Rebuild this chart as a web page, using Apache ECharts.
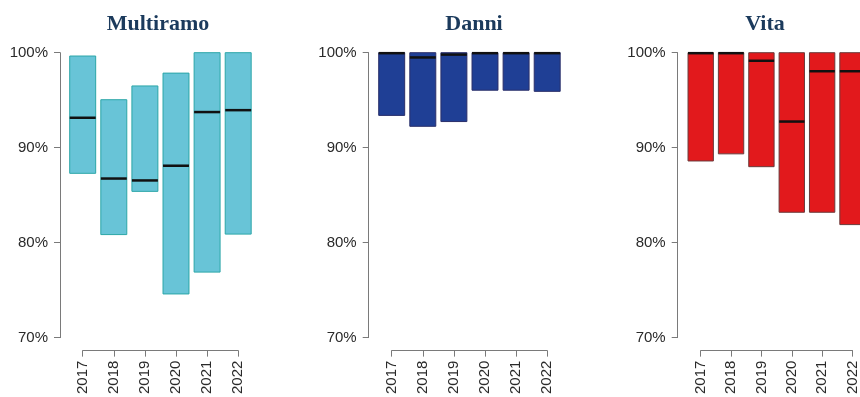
<!DOCTYPE html>
<html>
<head>
<meta charset="utf-8">
<script src="https://cdn.jsdelivr.net/npm/echarts@6/dist/echarts.min.js"></script>
<style>html,body{margin:0;padding:0;background:#fff}#c{width:860px;height:397px}</style>
</head>
<body>
<div id="c"></div>
<script>
const years = ['2017','2018','2019','2020','2021','2022'];
const yTicks = [70, 80, 90, 100];
const titles = ['Multiramo', 'Danni', 'Vita'];

const multiMin = [87.3, 80.85, 85.4, 74.6, 76.9, 80.9];
const multiMax = [99.65, 95.05, 96.5, 97.85, 100, 100];
const multiMed = [93.15, 86.75, 86.55, 88.1, 93.75, 93.95];

const danniMin = [93.4, 92.25, 92.75, 96.05, 96.05, 95.93];
const danniMax = [100, 100, 100, 100, 100, 100];
const danniMed = [99.95, 99.5, 99.8, 99.95, 99.95, 99.95];

const vitaMin = [88.6, 89.35, 88.0, 83.2, 83.2, 81.9];
const vitaMax = [100, 100, 100, 100, 100, 100];
const vitaMed = [99.95, 99.95, 99.15, 92.75, 98.05, 98.05];

const panels = [
  {min: multiMin, max: multiMax, med: multiMed, fill: '#68c4d7', stroke: '#2ba6a8', axisX: 60, first: 82.7, titleX: 153},
  {min: danniMin, max: danniMax, med: danniMed, fill: '#1f3f95', stroke: '#2a2f6a', axisX: 368.7, first: 391.7, titleX: 469},
  {min: vitaMin, max: vitaMax, med: vitaMed, fill: '#e2191c', stroke: '#6a3a3a', axisX: 677.7, first: 700.7, titleX: 760}
];
const spacing = 31.1;

const chart = echarts.init(document.getElementById('c'), null, {renderer: 'canvas'});
const grids = [], xAxes = [], yAxes = [], series = [], titleOpts = [];
const axisColor = '#7a7a7a';
const labelFont = {fontFamily: 'Liberation Sans, Arial, sans-serif', fontSize: 15, color: '#2a2a2a'};

panels.forEach((p, i) => {
  grids.push({left: p.first, width: spacing * 5, top: 52.7, height: 289, containLabel: false});
  xAxes.push({
    gridIndex: i, type: 'category', data: years, boundaryGap: false, offset: 13,
    axisLine: {show: true, lineStyle: {color: axisColor, width: 1}},
    axisTick: {show: true, inside: false, length: 6, lineStyle: {color: axisColor}},
    axisLabel: Object.assign({rotate: 90, margin: 10, interval: 0}, labelFont),
    splitLine: {show: false}
  });
  yAxes.push({
    gridIndex: i, type: 'value', min: yTicks[0], max: yTicks[yTicks.length - 1], interval: 10,
    offset: p.first - p.axisX,
    axisLine: {show: true, lineStyle: {color: axisColor, width: 1}},
    axisTick: {show: true, inside: false, length: 6, lineStyle: {color: axisColor}},
    axisLabel: Object.assign({margin: 12, formatter: '{value}%'}, labelFont),
    splitLine: {show: false}
  });
  const data = years.map((y, k) => [k, p.min[k], p.max[k], p.med[k]]);
  series.push({
    type: 'custom', xAxisIndex: i, yAxisIndex: i, clip: false,
    data: data,
    renderItem: function (params, api) {
      const x = api.value(0);
      const lo = api.coord([x, api.value(1)]);
      const hi = api.coord([x, api.value(2)]);
      const md = api.coord([x, api.value(3)]);
      const w = api.size([1, 0])[0] * 0.835;
      return {
        type: 'group',
        children: [
          {type: 'rect', shape: {x: lo[0] - w / 2, y: hi[1], width: w, height: lo[1] - hi[1]},
           style: {fill: p.fill, stroke: p.stroke, lineWidth: 1}},
          {type: 'line', shape: {x1: md[0] - w / 2, y1: md[1], x2: md[0] + w / 2, y2: md[1]},
           style: {stroke: '#111', lineWidth: 2.5}}
        ]
      };
    }
  });
  titleOpts.push({
    text: titles[i], left: p.titleX, top: 8, textAlign: 'center',
    textStyle: {fontFamily: 'Liberation Serif, Times New Roman, serif', fontWeight: 'bold', fontSize: 22, color: '#1b3a5c'}
  });
});

chart.setOption({
  animation: false,
  title: titleOpts,
  grid: grids,
  xAxis: xAxes,
  yAxis: yAxes,
  series: series
});
</script>
</body>
</html>
